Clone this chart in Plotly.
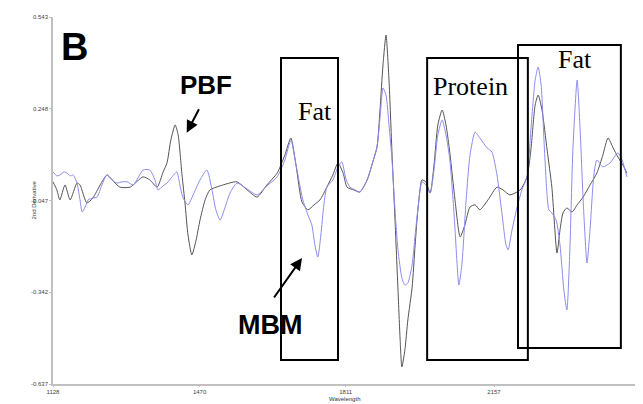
import plotly.graph_objects as go

# PBF (black) second-derivative spectrum
pbf_wl = [1128, 1137, 1144, 1156, 1168, 1184, 1191, 1207, 1221, 1238, 1254, 1270, 1284, 1308,
          1338, 1354, 1371, 1385, 1394, 1403, 1413, 1420, 1429, 1436, 1443, 1452, 1462, 1471,
          1483, 1494, 1518, 1557, 1581, 1604, 1627, 1651, 1669, 1683, 1695, 1709, 1723, 1737,
          1751, 1767, 1781, 1793, 1805, 1814, 1830, 1844, 1861, 1872, 1884, 1891, 1898, 1905,
          1912, 1919, 1926, 1933, 1938, 1942, 1949, 1956, 1966, 1973, 1980, 1989, 1998, 2008,
          2017, 2026, 2036, 2045, 2054, 2066, 2078, 2089, 2101, 2113, 2124, 2143, 2164, 2178,
          2194, 2218, 2234, 2243, 2253, 2260, 2269, 2281, 2292, 2304, 2311, 2318, 2327, 2339,
          2351, 2365, 2381, 2397, 2411, 2423, 2435, 2446, 2458, 2467]
pbf_val = [0.013, -0.013, -0.045, 0.003, -0.045, 0.009, 0.003, -0.055, -0.039, 0.003, 0.035,
           0.013, -0.004, -0.004, 0.029, 0.019, -0.004, 0.045, 0.074, 0.148, 0.196, 0.164,
           0.035, -0.055, -0.158, -0.222, -0.174, -0.110, -0.045, -0.013, 0.000, 0.013, -0.013,
           -0.036, 0.003, 0.041, 0.099, 0.154, 0.067, -0.052, -0.077, -0.061, -0.045, -0.004,
           0.035, 0.074, 0.041, -0.004, -0.013, -0.020, 0.019, 0.067, 0.125, 0.244, 0.389,
           0.485, 0.340, 0.106, -0.110, -0.335, -0.495, -0.582, -0.528, -0.431, -0.325, -0.190,
           -0.068, 0.019, 0.013, -0.023, 0.067, 0.196, 0.244, 0.196, 0.106, -0.045, -0.164,
           -0.126, -0.068, -0.061, -0.077, -0.045, -0.004, -0.013, -0.029, -0.013, 0.029,
           0.115, 0.260, 0.292, 0.244, 0.115, -0.004, -0.216, -0.142, -0.087, -0.071, -0.084,
           -0.061, -0.036, 0.003, 0.041, 0.099, 0.154, 0.122, 0.093, 0.067, 0.041]

# MBM (blue) second-derivative spectrum
mbm_wl = [1128, 1137, 1144, 1154, 1161, 1168, 1175, 1184, 1191, 1196, 1203, 1210, 1221, 1231,
          1242, 1254, 1266, 1277, 1289, 1301, 1315, 1326, 1338, 1354, 1366, 1373, 1385, 1394,
          1406, 1417, 1424, 1431, 1443, 1455, 1471, 1487, 1499, 1508, 1518, 1529, 1541, 1557,
          1581, 1604, 1627, 1651, 1669, 1683, 1695, 1711, 1723, 1732, 1739, 1746, 1753, 1760,
          1767, 1781, 1793, 1802, 1812, 1821, 1833, 1844, 1861, 1872, 1884, 1891, 1898, 1905,
          1912, 1919, 1926, 1933, 1942, 1949, 1956, 1966, 1973, 1980, 1989, 1998, 2008, 2017,
          2026, 2036, 2045, 2054, 2064, 2071, 2075, 2082, 2092, 2101, 2113, 2124, 2141, 2152,
          2164, 2176, 2185, 2190, 2199, 2211, 2222, 2234, 2243, 2253, 2260, 2267, 2276, 2285,
          2292, 2302, 2311, 2320, 2327, 2334, 2341, 2351, 2358, 2365, 2374, 2381, 2390, 2397,
          2411, 2428, 2446, 2456, 2467]
mbm_val = [0.045, 0.032, 0.035, 0.045, 0.041, 0.032, 0.035, 0.009, -0.045, -0.084, -0.068,
           -0.045, -0.039, -0.036, 0.003, 0.035, 0.019, 0.009, 0.013, 0.013, 0.003, 0.025,
           0.051, 0.051, 0.019, -0.013, 0.000, 0.009, 0.029, 0.045, 0.003, -0.036, -0.061,
           -0.029, 0.019, 0.051, -0.013, -0.077, -0.110, -0.071, -0.023, 0.009, -0.010, -0.029,
           0.000, 0.029, 0.083, 0.148, 0.067, -0.045, -0.094, -0.126, -0.190, -0.229, -0.158,
           -0.061, -0.004, 0.019, 0.061, 0.077, 0.019, -0.004, -0.013, -0.020, 0.019, 0.067,
           0.125, 0.218, 0.315, 0.292, 0.196, 0.083, -0.077, -0.206, -0.296, -0.319, -0.312,
           -0.254, -0.158, -0.068, 0.013, 0.003, -0.023, 0.051, 0.164, 0.212, 0.164, 0.083,
           -0.094, -0.254, -0.319, -0.254, -0.045, 0.099, 0.173, 0.154, 0.122, 0.109, 0.035,
           -0.094, -0.190, -0.206, -0.142, -0.068, -0.013, 0.029, 0.180, 0.340, 0.382, 0.324,
           0.083, -0.077, -0.087, -0.110, -0.190, -0.335, -0.399, -0.206, 0.115, 0.340, 0.180,
           -0.045, -0.248, -0.142, 0.035, 0.083, 0.061, 0.074, 0.106, 0.083, 0.029]

x_ticks = [1128, 1470, 1811, 2157, 2500]
x_tick_labels = ["1128", "1470", "1811", "2157", "2500"]
y_ticks = [0.543, 0.248, -0.047, -0.342, -0.637]
y_tick_labels = ["0.543", "0.248", "-0.047", "-0.342", "-0.637"]

# Highlighted regions: (label, wl start, wl end, value bottom, value top, label wl, label value)
regions = [
    ("Fat", 1660, 1793, -0.560, 0.411, 1739, 0.238),
    ("Protein", 2001, 2236, -0.560, 0.411, 2101, 0.321),
    ("Fat", 2213, 2453, -0.521, 0.453, 2346, 0.405),
]

SANS = "Liberation Sans, Arial, sans-serif"
SERIF = "Liberation Serif, Times New Roman, serif"

fig = go.Figure()
fig.add_trace(go.Scatter(x=pbf_wl, y=pbf_val, mode="lines", name="PBF",
                         line=dict(color="#555555", width=1, shape="spline", smoothing=0.6)))
fig.add_trace(go.Scatter(x=mbm_wl, y=mbm_val, mode="lines", name="MBM",
                         line=dict(color="#8c8cee", width=1, shape="spline", smoothing=0.6)))

for label, x0, x1, y0, y1, lx, ly in regions:
    fig.add_shape(type="rect", xref="x", yref="y", x0=x0, x1=x1, y0=y0, y1=y1,
                  line=dict(color="black", width=2), fillcolor="rgba(0,0,0,0)")
    fig.add_annotation(x=lx, y=ly, xref="x", yref="y", text=label, showarrow=False,
                       font=dict(family=SERIF, size=26, color="black"))

# Panel letter
fig.add_annotation(x=1179, y=0.447, xref="x", yref="y", text="<b>B</b>", showarrow=False,
                   font=dict(family=SANS, size=38, color="black"))
# Series labels with arrows
fig.add_annotation(x=1485, y=0.324, xref="x", yref="y", text="<b>PBF</b>", showarrow=False,
                   font=dict(family=SANS, size=26, color="black"))
fig.add_annotation(x=1440, y=0.171, xref="x", yref="y", text="", showarrow=True,
                   ax=13, ay=-25, arrowhead=2, arrowsize=1.2, arrowwidth=2, arrowcolor="black")
fig.add_annotation(x=1634, y=-0.447, xref="x", yref="y", text="<b>MBM</b>", showarrow=False,
                   font=dict(family=SANS, size=27, color="black"))
fig.add_annotation(x=1709, y=-0.232, xref="x", yref="y", text="", showarrow=True,
                   ax=-29, ay=41, arrowhead=2, arrowsize=1.2, arrowwidth=2, arrowcolor="black")

# Axis titles
fig.add_annotation(xref="paper", yref="paper", x=0, y=0.5, xshift=-20, xanchor="center",
                   yanchor="middle", text="2nd Derivative", textangle=-90, showarrow=False,
                   font=dict(family=SANS, size=6, color="#333"))
fig.add_annotation(xref="paper", yref="paper", x=0.495, y=0, yshift=-15, xanchor="center",
                   yanchor="middle", text="Wavelength", showarrow=False,
                   font=dict(family=SANS, size=6, color="#333"))

fig.update_layout(
    width=635, height=396,
    margin=dict(l=45, r=2, t=9, b=20),
    paper_bgcolor="white", plot_bgcolor="white",
    showlegend=False,
    xaxis=dict(range=[1128, 2500], tickvals=x_ticks, ticktext=x_tick_labels,
               showgrid=False, zeroline=False, showline=True, linecolor="#c0c0c0", linewidth=1.5,
               ticks="outside", ticklen=1, tickcolor="#c0c0c0",
               tickfont=dict(family=SANS, size=6, color="#444")),
    yaxis=dict(range=[-0.637, 0.543], tickvals=y_ticks, ticktext=y_tick_labels,
               showgrid=False, zeroline=False, showline=True, linecolor="#c0c0c0", linewidth=1.5,
               ticks="outside", ticklen=2, tickcolor="#c0c0c0",
               tickfont=dict(family=SANS, size=6, color="#444")),
)

fig.write_html("out.html")
